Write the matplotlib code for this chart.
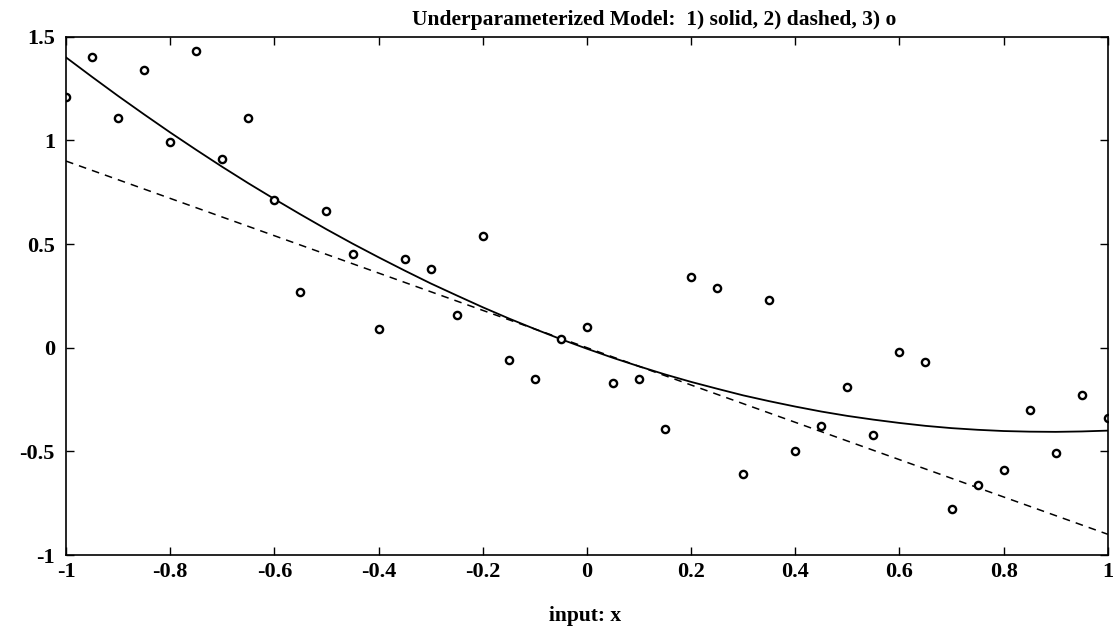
import matplotlib
matplotlib.use("Agg")
import matplotlib.pyplot as plt
import numpy as np

# noisy samples (open circles)
x_data = np.round(np.arange(-1.0, 1.0001, 0.05), 2)
y_data = [1.21, 1.40, 1.11, 1.34, 0.99, 1.43, 0.91, 1.11, 0.71, 0.27,
          0.66, 0.45, 0.09, 0.43, 0.38, 0.16, 0.54, -0.06, -0.15, 0.04,
          0.10, -0.17, -0.15, -0.39, 0.34, 0.29, -0.61, 0.23, -0.50, -0.38,
          -0.19, -0.42, -0.02, -0.07, -0.78, -0.66, -0.59, -0.30, -0.51,
          -0.23, -0.34]

y_solid = [1.400, 1.306, 1.214, 1.125, 1.038, 0.954, 0.872, 0.793, 0.717,
           0.643, 0.571, 0.502, 0.436, 0.372, 0.310, 0.252, 0.195, 0.141,
           0.090, 0.041, -0.005, -0.049, -0.090, -0.129, -0.165, -0.198,
           -0.230, -0.258, -0.284, -0.308, -0.329, -0.347, -0.363, -0.377,
           -0.388, -0.396, -0.402, -0.405, -0.406, -0.404, -0.400]

# model 2 (dashed straight line)
x_dash = [-1.0, 1.0]
y_dash = [0.90, -0.90]

x_ticks = [-1, -0.8, -0.6, -0.4, -0.2, 0, 0.2, 0.4, 0.6, 0.8, 1]
x_tick_labels = ['-1', '-0.8', '-0.6', '-0.4', '-0.2', '0', '0.2', '0.4', '0.6', '0.8', '1']
y_ticks = [-1, -0.5, 0, 0.5, 1, 1.5]
y_tick_labels = ['-1', '-0.5', '0', '0.5', '1', '1.5']

plt.rcParams['font.family'] = ['Liberation Serif', 'DejaVu Serif']
plt.rcParams['font.weight'] = 'bold'

fig = plt.figure(figsize=(11.19, 6.31), dpi=100)
ax = fig.add_axes([0.059, 0.1204, 0.931, 0.8215])

ax.plot(x_data, y_solid, color='black', linewidth=1.3)
ax.plot(x_dash, y_dash, color='black', linewidth=1.1, linestyle=(0, (5, 4)))
ax.plot(x_data, y_data, linestyle='none', marker='o', markersize=5.2,
        markerfacecolor='white', markeredgecolor='black', markeredgewidth=1.7)

ax.set_xlim(-1, 1)
ax.set_ylim(-1, 1.5)
ax.set_xticks(x_ticks)
ax.set_xticklabels(x_tick_labels)
ax.set_yticks(y_ticks)
ax.set_yticklabels(y_tick_labels)
ax.tick_params(direction='in', length=6, width=1.0, labelsize=16,
               top=True, right=True, pad=5)
ax.tick_params(axis='y', pad=8)
for lbl in ax.get_xticklabels() + ax.get_yticklabels():
    lbl.set_fontweight('bold')
for sp in ax.spines.values():
    sp.set_linewidth(1.2)

fig.text(0.585, 0.968, 'Underparameterized Model:  1) solid, 2) dashed, 3) o',
         ha='center', va='center', fontsize=15.5, fontweight='bold')
fig.text(0.523, 0.023, 'input: x', ha='center', va='center',
         fontsize=15.5, fontweight='bold')

fig.savefig('out.png', dpi=100, facecolor='white')
